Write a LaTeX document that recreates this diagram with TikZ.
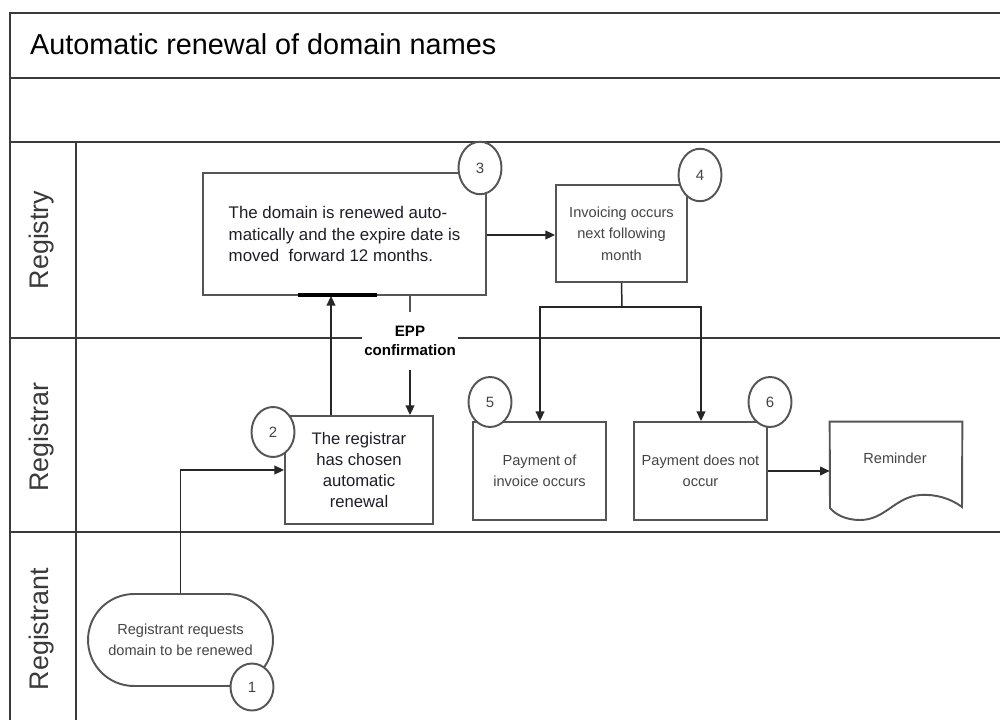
\documentclass[tikz,border=0pt]{standalone}
\usepackage{fontspec}
\setmainfont{Liberation Sans}
\usetikzlibrary{arrows.meta,shapes.geometric,shapes.misc}
\newcommand\setfs[2]{\fontsize{#1}{#2}\selectfont}
\definecolor{laneC}{HTML}{3A3A3A}
\definecolor{boxC}{HTML}{555555}
\definecolor{txtD}{HTML}{1E1E28}
\definecolor{txtG}{HTML}{444444}
\begin{document}
\begin{tikzpicture}[x=0.02cm,y=-0.02cm,
  lane/.style={draw=laneC,line width=1.4pt},
  box/.style={draw=boxC,line width=1.1pt,fill=white,rectangle,inner sep=0pt},
  darktxt/.style={text=txtD,align=center,font=\setfs{9.6pt}{12pt}},
  graytxt/.style={text=txtG,align=center,font=\setfs{8.3pt}{12.2pt}},
  num/.style={draw=boxC,line width=1.1pt,fill=white,ellipse,inner sep=0pt,minimum width=0.86cm,minimum height=1.0cm,text=txtG,font=\setfs{8.5pt}{10pt}},
  lanelbl/.style={rotate=90,text=laneC,font=\setfs{15.3pt}{18pt}},
  arr/.style={draw=black!85,line width=0.85pt,-{Triangle[length=5.5pt,width=5pt]}},
  con/.style={draw=black!85,line width=0.85pt}]
\useasboundingbox (0,0) rectangle (1000,720);
\fill[white] (0,0) rectangle (1000,720);
% frame and lanes
\draw[lane] (10,720) -- (10,13) -- (1000,13);
\draw[lane] (10,78) -- (1000,78);
\draw[lane] (10,142) -- (1000,142);
\draw[lane] (10,338) -- (1000,338);
\draw[lane] (10,532) -- (1000,532);
\draw[lane] (76,142) -- (76,720);
\node[anchor=west,text=black,font=\setfs{16.4pt}{19pt}] (title) at (24,44) {Automatic renewal of domain names};
\node[lanelbl] (lregistry) at (42,240) {Registry};
\node[lanelbl] (lregistrar) at (42,437) {Registrar};
\node[lanelbl] (lregistrant) at (42,629) {Registrant};
% boxes
\node[box,minimum width=5.66cm,minimum height=2.44cm,darktxt,align=left] (b3) at (344.5,234)
  {The domain is renewed auto-\\matically and the expire date is\\moved~ forward 12 months.};
\node[box,minimum width=2.62cm,minimum height=1.94cm,graytxt] (b4) at (621.5,233.5)
  {Invoicing occurs\\next following\\month};
\node[box,minimum width=2.96cm,minimum height=2.16cm,darktxt,font=\setfs{9.5pt}{11.9pt}] (b2) at (359,470)
  {\raisebox{0pt}{}The registrar\\has chosen\\automatic\\renewal};
\node[box,minimum width=2.66cm,minimum height=1.96cm,graytxt] (b5) at (539.5,471)
  {Payment of\\invoice occurs};
\node[box,minimum width=2.66cm,minimum height=1.96cm,graytxt] (b6) at (700.5,471)
  {Payment does not\\occur};
\node[box,rounded rectangle,minimum width=3.7cm,minimum height=1.84cm,graytxt] (s) at (180.5,640)
  {Registrant requests\\domain to be renewed};
% reminder document
\node[minimum width=2.64cm,minimum height=1.72cm,inner sep=0pt] (rem) at (896,465) {};
\draw[draw=boxC,line width=1.1pt,fill=white] (rem.north west) -- (rem.north east) -- (962,507)
  .. controls (950,498) and (935,494) .. (920,495)
  .. controls (895,497) and (885,520) .. (860,520)
  .. controls (845,520) and (835,514) .. (830,508) -- cycle;
\node[graytxt] (remtxt) at (895,458) {Reminder};
% connectors
\draw[arr] (b3.east |- 0,235) -- (b4.west |- 0,235);
\coordinate (j) at (622,307);
\coordinate (jl) at (540,307);
\coordinate (jr) at (701,307);
\draw[con] (b4.south) -- (j);
\draw[arr] (j) -| (jl |- b5.north);
\draw[arr] (j) -| (jr |- b6.north);
\draw[arr] (b6.east) -- (b6.east -| rem.west);
\coordinate (up) at (331,0);
\draw[arr] (up |- b2.north) -- (up |- b3.south);
\draw[line width=1.8pt,black] (298,295) -- (377,295);
\node[fill=white,inner xsep=0.04cm,inner ysep=0.27cm,align=center,text=black,font=\bfseries\setfs{8.6pt}{10.8pt}] (eppl) at (410,341) {EPP\\confirmation};
\coordinate (epp) at (410,0);
\draw[con,draw=boxC,line width=1.2pt] (epp |- b3.south) -- (epp |- eppl.north);
\draw[arr] (epp |- eppl.south) -- (epp |- b2.north);
\draw[arr] (s.north) |- (b2.west);
% numbered circles
\node[num,minimum height=1.05cm] (n3) at (480,168) {3};
\node[num,minimum height=1.05cm] (n4) at (700,175) {4};
\node[num] (n2) at (273,432) {2};
\node[num] (n5) at (490,402) {5};
\node[num] (n6) at (770,402) {6};
\node[num,minimum height=0.94cm] (n1) at (252,687) {1};
\end{tikzpicture}
\end{document}
